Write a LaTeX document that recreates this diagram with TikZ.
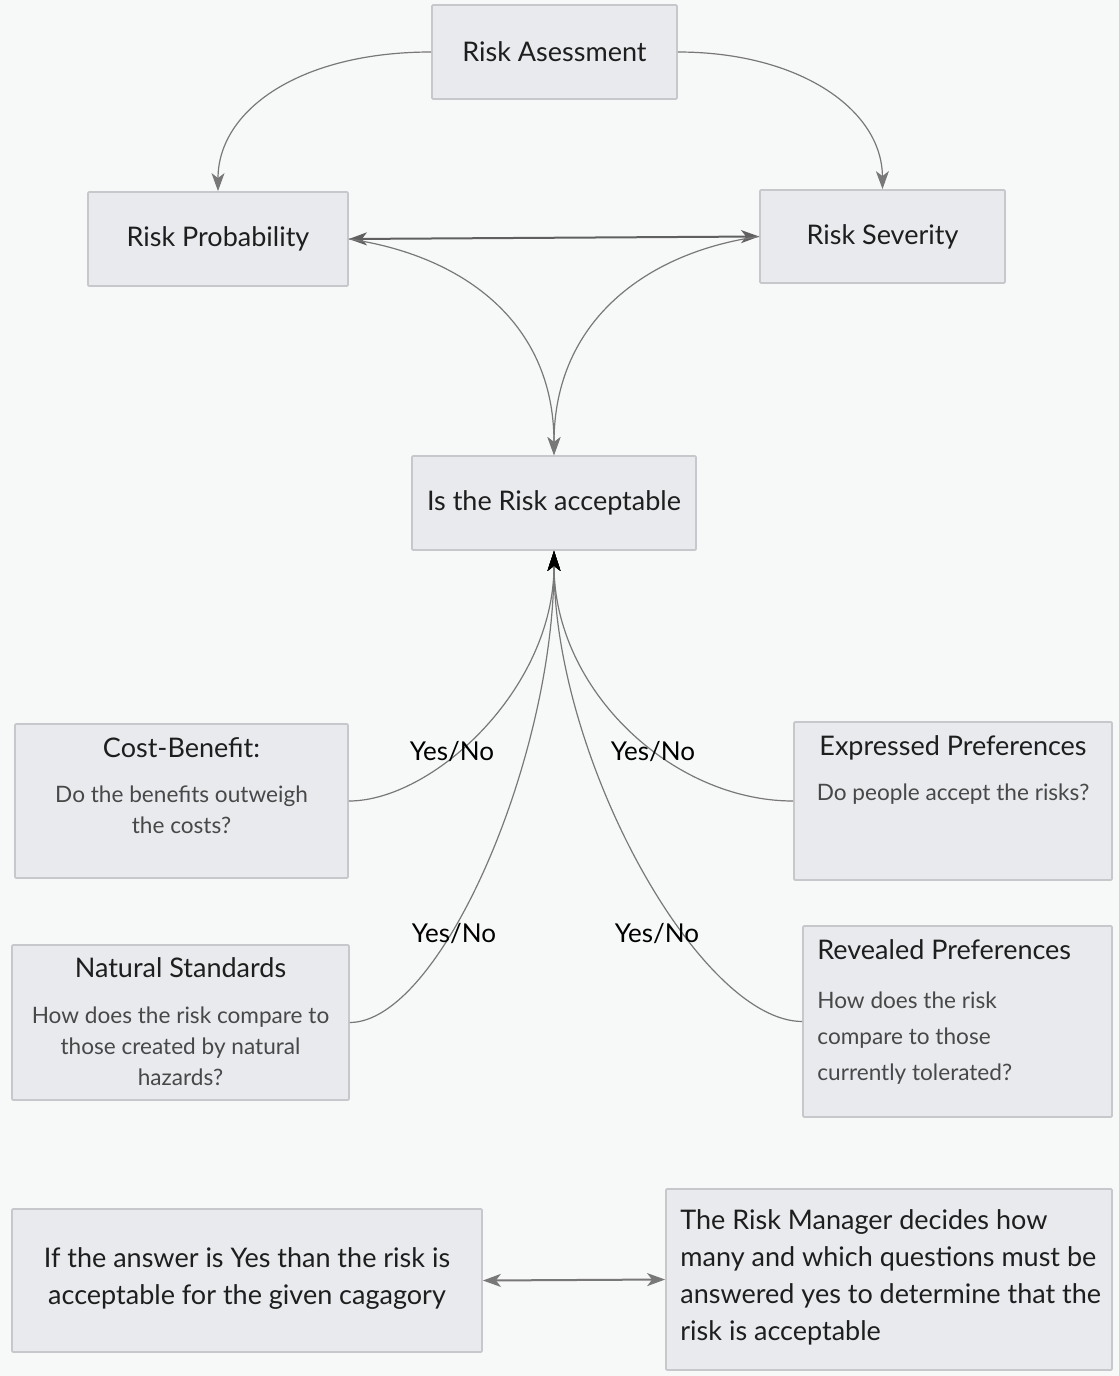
\documentclass[tikz,border=0pt]{standalone}
\usepackage{fontspec}
\setmainfont{Lato}
\usetikzlibrary{arrows.meta}

\definecolor{pagebg}{RGB}{247,248,248}
\definecolor{boxfill}{RGB}{232,234,237}
\definecolor{boxline}{RGB}{198,200,203}
\definecolor{flowgray}{RGB}{120,120,120}
\definecolor{titleink}{RGB}{30,30,30}
\definecolor{bodyink}{RGB}{72,72,72}

\tikzset{
	box/.style={draw=boxline, line width=0.9pt, fill=boxfill, rounded corners=0.6pt, inner sep=0pt},
	boxtitle/.style={text=titleink, font=\fontsize{13.5}{16.5}\selectfont},
	boxbody/.style={text=bodyink, font=\fontsize{11.3}{15.5}\selectfont, align=center},
	flow/.style={draw=flowgray, line width=0.6pt},
	flowhead/.style={-{Stealth[length=9pt, width=6.5pt, inset=2.5pt]}},
	bothheads/.style={{Stealth[length=9pt, width=6.5pt, inset=2.5pt]}-{Stealth[length=9pt, width=6.5pt, inset=2.5pt]}},
	blackhead/.style={-{Stealth[length=10pt, width=6.5pt, inset=2.5pt, color=black]}},
	answer/.style={text=black, font=\fontsize{13}{15}\selectfont}
}

\begin{document}
\begin{tikzpicture}[x=0.5pt, y=-0.5pt]
			%%%%% START %%%%%
			
			\fill[pagebg] (0, 0) rectangle (1119, 1376);
			\useasboundingbox (0, 0) rectangle (1119, 1376);
			
			% top part
			\node[box, boxtitle, minimum width=122.5pt, minimum height=47pt] (assess) at (554.5, 52) {Risk Asessment};
			\node[box, boxtitle, minimum width=130pt, minimum height=47pt] (prob) at (218, 239) {Risk Probability};
			\node[box, boxtitle, minimum width=122.5pt, minimum height=46.5pt] (sev) at (882.5, 236.5) {Risk Severity};
			\node[box, boxtitle, minimum width=142pt, minimum height=47pt] (accept) at (554, 503) {Is the Risk acceptable};
			
			\draw[flow, flowhead] (assess.west) .. controls (300, 52) and (218, 110) .. (prob.north);
			\draw[flow, flowhead] (assess.east) .. controls (800, 52) and (882, 110) .. (sev.north);
			\draw[flow, line width=1pt, draw=flowgray!80!black, bothheads] (prob.east) -- (sev.west);
			\draw[flow, flowhead] (prob.east) .. controls (460, 255) and (554, 320) .. (accept.north);
			\draw[flow, flowhead] (sev.west) .. controls (648, 252) and (554, 320) .. (accept.north);
			
			% the four questions (base = last line)
			\node[box, minimum width=166.5pt, minimum height=77pt] (cost) at (181.5, 801) {};
			\node[boxtitle, anchor=base] (cost-title) at (181.5, 757) {Cost-Benefit:};
			\node[boxbody, anchor=base] (cost-body) at (181.5, 833) {Do the benefits outweigh\\the costs?};
			
			\node[box, minimum width=159pt, minimum height=79pt] (expr) at (953, 801) {};
			\node[boxtitle, anchor=base] (expr-title) at (953, 755) {Expressed Preferences};
			\node[boxbody, anchor=base] (expr-body) at (953, 800) {Do people accept the risks?};
			
			\node[box, minimum width=168.5pt, minimum height=77.5pt] (natural) at (180.5, 1022.5) {};
			\node[boxtitle, anchor=base] (natural-title) at (180.5, 977) {Natural Standards};
			\node[boxbody, anchor=base] (natural-body) at (180.5, 1085) {How does the risk compare to\\those created by natural\\hazards?};
			
			\node[box, minimum width=154.5pt, minimum height=95.5pt] (reveal) at (957.5, 1021.5) {};
			\node[boxtitle, anchor=base west, inner sep=0pt] (reveal-title) at (817, 959) {Revealed Preferences};
			\node[boxbody, anchor=base west, inner sep=0pt, align=left, font=\fontsize{11.3}{18}\selectfont] (reveal-body) at (817, 1080) {How does the risk\\compare to those\\currently tolerated?};
			
			\draw[flow, blackhead] (cost.east) .. controls (432, 801) and (554, 690) .. (accept.south);
			\draw[flow, blackhead] (natural.east) .. controls (440, 1022) and (554, 760) .. (accept.south);
			\draw[flow, blackhead] (expr.west) .. controls (672, 801) and (554, 690) .. (accept.south);
			\draw[flow, blackhead] (reveal.west) .. controls (700, 1021) and (554, 760) .. (accept.south);
			
			\node[answer] (yn-cost) at (452, 752) {Yes/No};
			\node[answer] (yn-expr) at (653, 752) {Yes/No};
			\node[answer] (yn-natural) at (454, 933) {Yes/No};
			\node[answer] (yn-reveal) at (657, 933) {Yes/No};
			
			% bottom notes
			\node[box, minimum width=235pt, minimum height=71.5pt] (rule) at (247, 1280.5) {};
			\node[text=titleink, font=\fontsize{13.5}{18.5}\selectfont, align=center, anchor=base] (rule-text) at (247, 1304) {If the answer is Yes than the risk is\\acceptable for the given cagagory};
			
			\node[box, minimum width=223pt, minimum height=90.5pt] (manager) at (889, 1279.5) {};
			\node[text=titleink, font=\fontsize{13.5}{18.5}\selectfont, align=left, anchor=base west, inner sep=0pt] (manager-text) at (680, 1340) {The Risk Manager decides how\\many and which questions must be\\answered yes to determine that the\\risk is acceptable};
			
			\draw[flow, line width=1pt, bothheads] (rule.east) -- (manager.west);
			
			%%%%% END %%%%%
		\end{tikzpicture}
\end{document}
